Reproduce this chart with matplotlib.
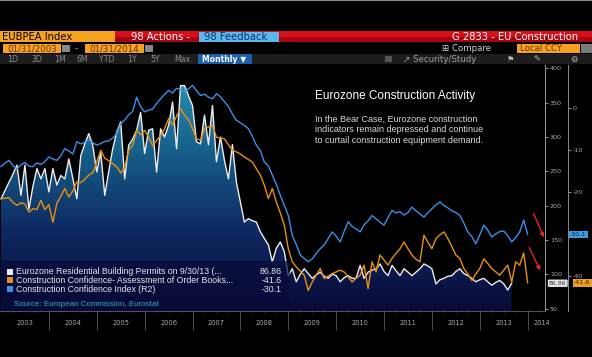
import numpy as np
import matplotlib
matplotlib.use('Agg')
import matplotlib.pyplot as plt
from matplotlib.patches import Rectangle, Polygon
from matplotlib.colors import LinearSegmentedColormap
from matplotlib.transforms import blended_transform_factory

# monthly data, Jan 2003 onwards
permits = [210, 222, 234, 246, 259, 215, 259, 195, 228, 254, 239, 254,
           220, 254, 230, 244, 239, 268, 240, 210, 273, 290, 305, 288,
           249, 278, 215, 250, 283, 307, 322, 239, 288, 297, 310, 336,
           276, 310, 312, 249, 312, 300, 317, 351, 283, 375, 375, 360,
           346, 293, 290, 332, 289, 346, 264, 300, 266, 239, 289, 234,
           205, 176, 181, 178, 176, 162, 152, 143, 118, 138, 147, 133,
           98, 108, 89, 100, 108, 101, 94, 99, 103, 97, 94, 100,
           98, 89, 95, 98, 94, 94, 113, 94, 103, 106, 108, 115,
           104, 98, 113, 105, 98, 108, 103, 98, 103, 108, 115, 112,
           108, 86, 92, 94, 97, 98, 104, 108, 101, 98, 94, 89,
           92, 94, 89, 84, 88, 91, 86, 77, 86.86]

order_books = [-21.6, -21.5, -21.4, -22.5, -23.2, -22.6, -22.9, -24.8, -24.0, -24.2, -22.0, -24.2,
               -23.0, -27.2, -22.7, -21.0, -19.2, -21.2, -19.8, -17.6, -17.8, -17.0, -16.0, -15.5,
               -12.9, -10.1, -12.0, -12.6, -13.3, -14.0, -15.5, -14.1, -10.1, -9.0, -5.4, -6.4,
               -5.4, -7.0, -9.0, -7.8, -6.6, -5.0, -2.6, -4.1, -2.0, -0.2, -1.8, -2.9,
               -5.0, -7.4, -7.7, -5.0, -4.6, -4.2, -7.0, -7.2, -7.4, -8.8, -10.1, -10.5,
               -11.0, -11.7, -12.3, -12.9, -14.5, -16.0, -18.4, -21.6, -19.2, -22.4, -25.0, -27.9,
               -33.5, -36.6, -37.8, -38.8, -39.8, -43.4, -41.4, -39.8, -38.2, -40.6, -40.0, -39.4,
               -39.0, -38.6, -39.0, -40.2, -41.4, -40.5, -39.8, -37.4, -43.0, -36.6, -39.0, -35.0,
               -36.2, -37.4, -35.8, -34.6, -33.5, -31.9, -33.5, -35.0, -36.0, -36.6, -30.3, -32.0,
               -33.5, -31.1, -30.2, -29.5, -31.1, -33.0, -35.0, -35.8, -38.2, -39.5, -41.0, -39.5,
               -38.2, -35.9, -37.0, -38.2, -39.0, -39.8, -38.6, -37.4, -41.4, -36.6, -37.4, -34.5, -41.6]

confidence = [-14, -13.2, -12.5, -13.8, -14.5, -13.6, -13, -13.9, -14, -13.1, -13.5, -12.8, -11.7,
              -12.2, -12.5, -11.4, -9.7, -10.3, -11, -8.1, -8.6, -8.2, -7.7, -8.3, -8.9,
              -8.5, -8.0, -7.9, -7.2, -6.2, -3.8, -2.9, -1.7, -0.9, 2.5, 0.2, -1,
              -0.6, -0.3, 1, 2.1, 3.2, 4.1, 3.5, 4.6, 4.3, 3.7, 4.5, 5.3,
              4.0, 2.9, 3.2, 2.5, 2.1, 3.3, 2.6, 1.4, 0.3, -1.5, -3, -3.6,
              -4.2, -5, -6.8, -8.9, -10.2, -12.9, -13.8, -16, -18.2, -20.8, -23.2, -25.6,
              -30.3, -32.5, -35, -35.8, -36.6, -35.9, -34.6, -33.5, -32.6, -31.1, -29.5, -30.5,
              -31.9, -29.4, -27.1, -28.2, -28.8, -29.5, -27.8, -26.9, -25.6, -26.4, -27.2, -27.9,
              -26.1, -24.4, -25.0, -24.7, -25.5, -24.9, -23.6, -24.5, -25.2, -26, -24.9, -24,
              -23.1, -22.4, -23.2, -23.8, -24.5, -24.9, -25.6, -27.4, -29.5, -30.6, -32.3, -30.2,
              -27.9, -29.1, -30.7, -30.0, -29.4, -29.3, -30.4, -31.9, -30.8, -29.5, -26.7, -30.1]

years = list(range(2003, 2015))
legend_labels = ['Eurozone Residential Building Permits on 9/30/13 (...',
                 'Construction Confidence- Assessment of Order Books...',
                 'Construction Confidence Index (R2)']
last_labels = ['86.86', '-41.6', '-30.1']
period_buttons = ['1D', '3D', '1M', '6M', 'YTD', '1Y', '5Y', 'Max']
left_ticks = list(range(50, 401, 50))
r2_ticks = [0, -10, -20, -30, -40]
r2_tick_labels = ['0', '-10', '-20', '', '-40']   # -30 sits under the -30.1 tag

WHITE_C = '#ececec'
ORANGE = '#e8900f'
BLUE = '#3c8ee6'
BBG_ORANGE = '#f6a21e'
GRAY_TXT = '#a8a8a8'

W, H = 592, 357
fig = plt.figure(figsize=(W / 100, H / 100), dpi=100, facecolor='black')


def fx(x):
    return x / W


def fy(y):
    return 1 - y / H


def rect(x, y, w, h, color, **kw):
    fig.add_artist(Rectangle((fx(x), fy(y + h)), w / W, h / H, transform=fig.transFigure,
                             facecolor=color, edgecolor='none', **kw))


def label(x, y, s, **kw):
    kw.setdefault('va', 'center')
    return fig.text(fx(x), fy(y), s, **kw)


# ---- header ----
rect(0, 0, W, 1, '#8a8a8a')
rect(0, 31, 115, 11, BBG_ORANGE)
label(2, 36.8, 'EUBPEA Index', fontsize=7.2, color='black')
rect(115, 31, W - 115, 11, '#d8101c')
rect(115, 37, W - 115, 5, '#a8060f')
label(131, 36.5, '98 Actions -', fontsize=7.2, color='white')
rect(199, 32, 80, 9.5, '#5cb8ec')
label(204, 36.8, '98 Feedback', fontsize=7.2, color='#0d2f6e')
label(578, 36.5, 'G 2833 - EU Construction', fontsize=7.2, color='white', ha='right')

rect(3, 44, 58, 9, BBG_ORANGE)
label(7, 48.7, '01/31/2003', fontsize=6.2, color='#6a3000')
rect(62, 45, 8, 7, '#8a8a8a')
label(75, 48.5, '-', fontsize=6, color='#bbbbbb')
rect(85, 44, 59, 9, BBG_ORANGE)
label(89, 48.7, '01/31/2014', fontsize=6.2, color='#6a3000')
rect(145, 45, 8, 7, '#8a8a8a')
label(442, 48.5, '\u229e Compare', fontsize=6.2, color='#cfcfcf')
rect(517, 44, 63, 9, BBG_ORANGE)
label(520, 48.7, 'Local CCY', fontsize=6.2, color='#6a3000')
rect(581, 44, 11, 9, '#7a7a7a')

rect(0, 54, W, 10, '#1d1d1d')
for xc, b in zip([13, 37, 60, 82, 107, 132, 155, 182], period_buttons):
    label(xc, 59.3, b, fontsize=5.6, color='#8e8e8e', ha='center')
rect(198, 54, 54, 10, '#1d5fae')
label(202, 59.3, 'Monthly \u25bc', fontsize=5.6, color='white', fontweight='bold')
rect(385, 56, 7, 6, '#555555')
label(403, 59.3, '\u2197 Security/Study', fontsize=6.2, color='#a0a0a0')
label(507, 59.3, '\u2691', fontsize=6, color='#bbbbbb')
label(533, 59.3, '\u270e', fontsize=6, color='#bbbbbb')
label(570, 59.3, '\u2699', fontsize=6, color='#bbbbbb')

# ---- main chart ----
ax = fig.add_axes([0, fy(311), 545 / W, (311 - 65) / H])
ax.set_facecolor('black')
t_lo, t_hi = -0.25, 136.34
y_lo, y_hi = 46.4, 405.0

m_permits = np.arange(len(permits))
months = np.arange(len(confidence))

cmap = LinearSegmentedColormap.from_list('fill', ['#090a38', '#0e2a62', '#17628c', '#2d96b8'])
grad = np.linspace(0, 1, 256).reshape(-1, 1)
img = ax.imshow(grad, extent=[t_lo, t_hi, y_lo, y_hi], origin='lower', aspect='auto',
                cmap=cmap, zorder=1)
verts = [(m_permits[0], y_lo)] + list(zip(m_permits, permits)) + [(m_permits[-1], y_lo)]
clip = Polygon(verts, closed=True, facecolor='none', edgecolor='none')
ax.add_patch(clip)
img.set_clip_path(clip)
ax.plot(m_permits, permits, color=WHITE_C, lw=1.0, zorder=4)

ax.set_xlim(t_lo, t_hi)
ax.set_ylim(y_lo, y_hi)
ax.set_xticks([])
ax.set_xticks(range(0, 137, 3), minor=True)
ax.tick_params(axis='x', which='minor', length=2, direction='inout', color='#666666', width=0.6)
for s in ['left', 'top']:
    ax.spines[s].set_visible(False)
ax.spines['right'].set_color('#9a9a9a')
ax.spines['right'].set_linewidth(0.7)
ax.spines['bottom'].set_color('#555555')
ax.spines['bottom'].set_linewidth(0.7)

ax2 = ax.twinx()
# twinx moves the host ticks to the left, so put them back on the right
ax.yaxis.tick_right()
ax.yaxis.set_label_position('right')
ax.set_yticks(left_ticks)
ax.tick_params(axis='y', labelsize=4.6, colors=GRAY_TXT, length=2.5, pad=1, width=0.6)

ax2.set_ylim(-48.29, 10.14)
ax2.set_yticks(r2_ticks)
ax2.set_yticklabels(r2_tick_labels)
ax2.tick_params(axis='y', labelsize=4.6, colors=GRAY_TXT, length=2.5, pad=1, width=0.6)
for s in ['left', 'top', 'bottom']:
    ax2.spines[s].set_visible(False)
ax2.spines['right'].set_position(('outward', 16.6))
ax2.spines['right'].set_color('#8a8a8a')
ax2.spines['right'].set_linewidth(0.7)

# legend backdrop
ax2.add_patch(Rectangle((fx(0), fy(311)), 290 / W, 50 / H, transform=fig.transFigure,
                        facecolor='#080b38', alpha=0.7, edgecolor='none', zorder=1))
ax2.plot(months, confidence, color=BLUE, lw=1.0, zorder=3)
ax2.plot(months, order_books, color=ORANGE, lw=1.0, zorder=3)
ax2.set_xlim(t_lo, t_hi)

# value tags
tr1 = blended_transform_factory(fig.transFigure, ax.transData)
tr2 = blended_transform_factory(fig.transFigure, ax2.transData)
fig.text(fx(549), permits[-1], last_labels[0], transform=tr1, fontsize=4.4, color='#333333',
         va='center', bbox=dict(boxstyle='round,pad=0.2', fc='#e4e4e4', ec='none'))
fig.text(fx(570), confidence[-1], last_labels[2], transform=tr2, fontsize=4.6, color='#10224a',
         va='center', bbox=dict(boxstyle='square,pad=0.2', fc='#3d9be2', ec='none'))
fig.text(fx(574), order_books[-1], last_labels[1], transform=tr2, fontsize=4.6, color='#3a2000',
         va='center', bbox=dict(boxstyle='square,pad=0.2', fc='#f0a020', ec='none'))

# red arrows
for (x0, y0), (x1, y1) in [((532.5, 211), (545, 240)), ((528, 245), (541.5, 273))]:
    ax2.annotate('', xy=(x1, H - y1), xytext=(x0, H - y0), xycoords='figure pixels',
                 textcoords='figure pixels',
                 arrowprops=dict(arrowstyle='-|>', color='#e3241b', lw=1.0, mutation_scale=6))

# annotation
label(315, 96, 'Eurozone Construction Activity', fontsize=8.5, color='white', family='Liberation Sans')
body = ['In the Bear Case, Eurozone construction',
        'indicators remain depressed and continue',
        'to curtail construction equipment demand.']
for i, line in enumerate(body):
    label(315, 119.5 + i * 10.3, line, fontsize=6.5, color='#d9d9d9', family='Liberation Sans')

# legend
for i, (txt, col, val) in enumerate(zip(legend_labels, [WHITE_C, ORANGE, BLUE], last_labels)):
    yy = 271.5 + i * 8.8
    rect(7, yy - 3, 6, 6, col)
    label(16, yy, txt, fontsize=6.3, color='#e6e6e6', family='Liberation Sans')
    label(282, yy, val, fontsize=6.3, color='#e6e6e6', family='Liberation Sans', ha='right')
label(14, 304, 'Source: European Commission, Eurostat', fontsize=5.8, color='#2aaec6',
      family='Liberation Sans')

# ---- year axis ----
axx = fig.add_axes([0, fy(335), 549 / W, 24 / H])
axx.set_xlim(t_lo, 137.35)
axx.set_ylim(0, 1)
axx.axis('off')
axx.vlines([12 * k for k in range(1, len(years))], 0.2, 0.96, color='#4a4a4a', lw=0.8)
for k, yr in enumerate(years):
    # the last year label runs into the axis strip and is cut, as in the terminal view
    xc = 12 * k + 6 if yr < years[-1] else 12 * k + 3.5
    axx.text(xc, 0.5, str(yr), ha='center', va='center', fontsize=4.8,
             color=GRAY_TXT, clip_on=True)

fig.savefig('out.png', dpi=100, facecolor='black')
